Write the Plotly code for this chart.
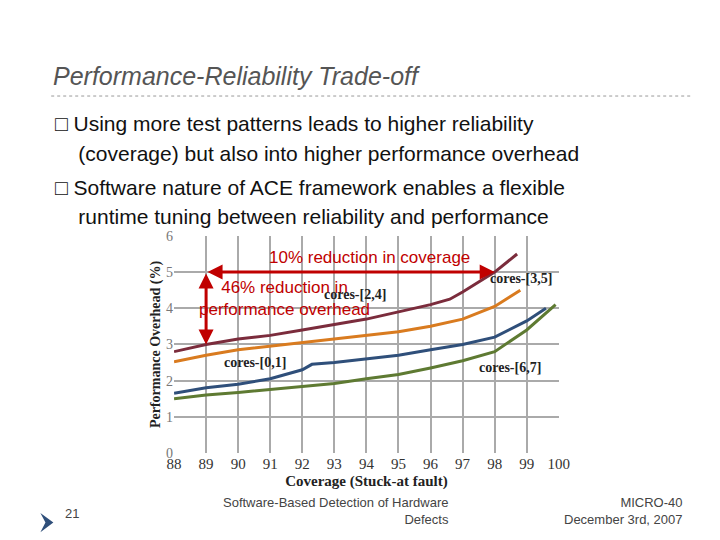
import plotly.graph_objects as go

x35 = [88, 89, 90, 91, 92, 93, 94, 95, 96, 96.6, 97, 98, 98.7]
y35 = [2.8, 3.0, 3.15, 3.25, 3.4, 3.55, 3.7, 3.9, 4.1, 4.25, 4.45, 5.0, 5.5]
x24 = [88, 89, 90, 91, 92, 93, 94, 95, 96, 97, 98, 98.8]
y24 = [2.52, 2.7, 2.85, 2.95, 3.05, 3.15, 3.25, 3.35, 3.5, 3.7, 4.05, 4.5]
x01 = [88, 89, 90, 91, 92, 92.3, 93, 94, 95, 96, 97, 98, 99, 99.6]
y01 = [1.65, 1.8, 1.9, 2.05, 2.3, 2.45, 2.5, 2.6, 2.7, 2.85, 3.0, 3.2, 3.65, 4.0]
x67 = [88, 89, 90, 91, 92, 93, 94, 95, 96, 97, 98, 99, 99.9]
y67 = [1.5, 1.6, 1.67, 1.75, 1.83, 1.92, 2.05, 2.17, 2.35, 2.55, 2.8, 3.4, 4.1]
xticks = list(range(88, 101))
bullets = ["□ Using more test patterns leads to higher reliability",
           "    (coverage) but also into higher performance overhead",
           "□ Software nature of ACE framework enables a flexible",
           "    runtime tuning between reliability and performance"]

fig = go.Figure()
for xs, ys, c in [(x35, y35, "#7b2c3c"), (x24, y24, "#d97b1f"), (x01, y01, "#2f4f7a"), (x67, y67, "#5e7a32")]:
    fig.add_trace(go.Scatter(x=xs, y=ys, mode="lines", line=dict(color=c, width=3), showlegend=False))

serif = "Liberation Serif"
fig.update_layout(
    width=720, height=540, margin=dict(l=0, r=0, t=0, b=0),
    paper_bgcolor="white", plot_bgcolor="white",
    xaxis=dict(domain=[0.2306, 0.765], range=[88, 100], tickvals=xticks, showgrid=True, gridcolor="#aaaaaa",
               gridwidth=1.5, zeroline=False, tickfont=dict(family=serif, size=15, color="#333"), automargin=False,
               title=dict(text="<b>Coverage (Stuck-at fault)</b>", font=dict(family=serif, size=15, color="#222"), standoff=4)),
    yaxis=dict(domain=[0.176, 0.578], range=[0, 6], dtick=1, showgrid=True, gridcolor="#aaaaaa", gridwidth=1.5,
               zeroline=False, tickfont=dict(family=serif, size=14, color="#777"), automargin=False,
               title=dict(text="<b>Performance Overhead (%)</b>", font=dict(family=serif, size=14, color="#222"), standoff=2)),
)

red = "#c00000"
anns = [
    dict(x=98, y=5, ax=89, ay=5, axref="x", ayref="y", showarrow=True, arrowside="end+start", arrowhead=2, arrowsize=1, arrowwidth=3, arrowcolor=red, text=""),
    dict(x=89, y=3, ax=89, ay=5, axref="x", ayref="y", showarrow=True, arrowside="end+start", arrowhead=2, arrowsize=1, arrowwidth=3, arrowcolor=red, text=""),
    dict(x=94.1, y=5.41, text="10% reduction in coverage", showarrow=False, font=dict(family="Liberation Sans", size=17, color=red)),
    dict(x=91.45, y=4.28, text="46% reduction in<br>performance overhead", showarrow=False, align="center",
         font=dict(family="Liberation Sans", size=17, color=red)),
    dict(x=92.6, y=4.39, text="<b>cores-[2,4]</b>", showarrow=False, xanchor="left", font=dict(family=serif, size=14, color="#222")),
    dict(x=97.8, y=4.83, text="<b>cores-[3,5]</b>", showarrow=False, xanchor="left", font=dict(family=serif, size=14, color="#222")),
    dict(x=89.5, y=2.5, text="<b>cores-[0,1]</b>", showarrow=False, xanchor="left", font=dict(family=serif, size=14, color="#222")),
    dict(x=97.45, y=2.35, text="<b>cores-[6,7]</b>", showarrow=False, xanchor="left", font=dict(family=serif, size=14, color="#222")),
    dict(xref="paper", yref="paper", x=0.06, y=0.874, xanchor="left", yanchor="middle", showarrow=False,
         text="<i>Performance-Reliability Trade-off</i>", font=dict(family="Liberation Sans", size=25, color="#555")),
    dict(xref="paper", yref="paper", x=0.077, y=0.047, showarrow=False, text="21", font=dict(family="Liberation Sans", size=13, color="#444")),
    dict(xref="paper", yref="paper", x=0.615, y=0.035, xanchor="right", showarrow=False, align="right",
         text="Software-Based Detection of Hardware<br>Defects", font=dict(family="Liberation Sans", size=13, color="#444")),
    dict(xref="paper", yref="paper", x=0.94, y=0.035, xanchor="right", showarrow=False, align="right",
         text="MICRO-40<br>December 3rd, 2007", font=dict(family="Liberation Sans", size=13, color="#444")),
]
for i, (t, py) in enumerate(zip(bullets, [115, 145, 179, 208])):
    anns.append(dict(xref="paper", yref="paper", x=0.063, y=1 - py / 540, xanchor="left", yanchor="middle",
                     showarrow=False, text=t.replace(" ", "&nbsp;", 4) if t.startswith("    ") else t,
                     font=dict(family="Liberation Sans", size=21, color="#111")))
fig.update_layout(annotations=anns)
fig.add_shape(type="line", xref="paper", yref="paper", x0=0.06, x1=0.95, y0=0.837, y1=0.837, line=dict(color="#999", width=1, dash="dot"))
fig.add_shape(type="path", xref="paper", yref="paper", path="M 0.045 0.065 L 0.063 0.047 L 0.045 0.029 L 0.052 0.047 Z", fillcolor="#2f4f7a", line=dict(width=0))
fig.write_html("out.html")
